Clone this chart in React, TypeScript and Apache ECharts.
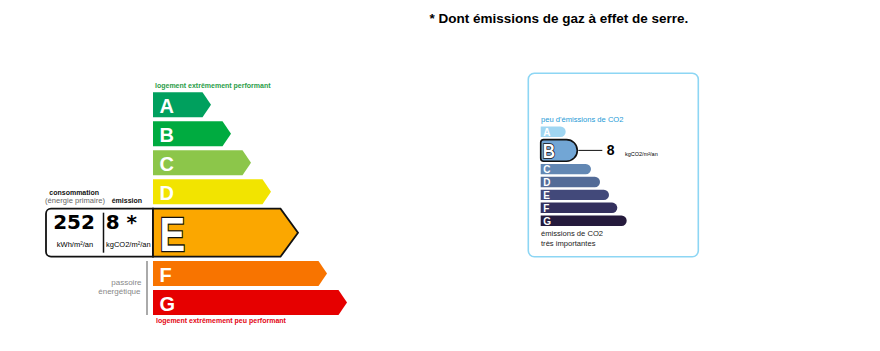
import React, { useEffect, useRef } from "react";
import * as echarts from "echarts";

// ---- Energy (DPE) data ----
const energyClasses = ["A", "B", "C", "D", "E", "F", "G"];
const energyBarLengths = [58, 78, 98, 118, 145, 174, 194];
const energyColors = ["#00a05e", "#00ab40", "#8cc64a", "#f2e400", "#fba700", "#f87400", "#e60000"];
const energyClass = "E";
const consumption = 252;
const consumptionUnit = "kWh/m²/an";
const emission = 8;
const emissionUnit = "kgCO2/m²/an";

// ---- GHG data ----
const ghgClasses = ["A", "B", "C", "D", "E", "F", "G"];
const ghgBarLengths = [25, 36.6, 50.3, 59.3, 68.3, 76.6, 86];
const ghgColors = ["#a0d6f2", "#72a6d5", "#6287b3", "#536b97", "#42497a", "#34305e", "#251a3c"];
const ghgClass = "B";
const ghgValue = 8;
const ghgUnit = "kgCO2/m²/an";

// ---- Texts ----
const titleText = "* Dont émissions de gaz à effet de serre.";
const energyTopLabel = "logement extrêmement performant";
const energyBottomLabel = "logement extrêmement peu performant";
const ghgTopLabel = "peu d'émissions de CO2";
const ghgBottomLabel = ["émissions de CO2", "très importantes"];

const FONT = "'Liberation Sans', Arial, sans-serif";

function rowPositions(classes: string[], hl: string, extra: number) {
  const h = classes.indexOf(hl);
  return classes.map((_, i) => i + (i > h ? 2 * extra : 0) + (i === h ? extra : 0));
}

const energyPos = rowPositions(energyClasses, energyClass, 0.41);
const ghgPos = rowPositions(ghgClasses, ghgClass, 0.45);

function renderEnergy(params: any, api: any) {
  const i = params.dataIndex;
  const len = api.value(0);
  const pos = api.value(1);
  const [x0, yc] = api.coord([0, pos]);
  const [x1] = api.coord([len, pos]);
  const hl = energyClasses[i] === energyClass;
  const half = hl ? 24 : 12.5;
  const head = hl ? 17.5 : 8.5;
  const children: any[] = [];
  if (hl) {
    const [bx] = api.coord([-107, pos]);
    children.push({
      type: "rect",
      shape: { x: bx, y: yc - half, width: x0 - bx, height: half * 2, r: [5, 0, 0, 5] },
      style: { fill: "#fff", stroke: "#111", lineWidth: 1.8 },
    });
    children.push({
      type: "line",
      shape: { x1: bx + 57.5, y1: yc - 20, x2: bx + 57.5, y2: yc + 20 },
      style: { stroke: "#111", lineWidth: 1.5 },
    });
    children.push({
      type: "text",
      style: {
        text: String(consumption), x: bx + 28, y: yc - 11, align: "center", verticalAlign: "middle",
        font: "bold 20px 'DejaVu Sans', sans-serif", fill: "#000",
      },
    });
    children.push({
      type: "text",
      style: {
        text: String(emission) + " *", x: bx + 59.7, y: yc - 11, align: "left", verticalAlign: "middle",
        font: "bold 20px 'DejaVu Sans', sans-serif", fill: "#000",
      },
    });
    children.push({
      type: "text",
      style: {
        text: consumptionUnit, x: bx + 29, y: yc + 12, align: "center", verticalAlign: "middle",
        font: "7.5px " + FONT, fill: "#000",
      },
    });
    children.push({
      type: "text",
      style: {
        text: emissionUnit, x: bx + 82.3, y: yc + 12, align: "center", verticalAlign: "middle",
        font: "7.5px " + FONT, fill: "#000",
      },
    });
  }
  children.push({
    type: "polygon",
    shape: {
      points: [
        [x0, yc - half], [x1 - head, yc - half], [x1, yc], [x1 - head, yc + half], [x0, yc + half],
      ],
    },
    style: { fill: energyColors[i], stroke: hl ? "#111" : null, lineWidth: hl ? 1.8 : 0 },
  });
  if (hl) {
    children.push({
      type: "text",
      x: x0 + 6.5,
      y: yc + 1.5,
      scaleX: 0.8,
      style: {
        text: energyClasses[i], x: 0, y: 0, align: "left", verticalAlign: "middle",
        font: "bold 48px " + FONT, fill: "#fff", stroke: "#111", lineWidth: 2.5,
      },
    });
  } else {
    children.push({
      type: "text",
      style: {
        text: energyClasses[i], x: x0 + 6.5, y: yc + 1, align: "left", verticalAlign: "middle",
        font: "bold 20px " + FONT, fill: "#fff",
      },
    });
  }
  return { type: "group", children };
}

function renderGhg(params: any, api: any) {
  const i = params.dataIndex;
  const len = api.value(0);
  const pos = api.value(1);
  const [x0, yc] = api.coord([0, pos]);
  const [x1] = api.coord([len, pos]);
  const hl = ghgClasses[i] === ghgClass;
  const half = hl ? 10.8 : 5.2;
  const children: any[] = [];
  children.push({
    type: "rect",
    shape: { x: x0, y: yc - half, width: x1 - x0, height: half * 2, r: hl ? [3, half, half, 3] : [0, half, half, 0] },
    style: { fill: ghgColors[i], stroke: hl ? "#111" : null, lineWidth: hl ? 1.6 : 0 },
  });
  if (hl) {
    children.push({
      type: "text",
      x: x0 + 2,
      y: yc + 0.5,
      scaleX: 0.85,
      style: {
        text: ghgClasses[i], x: 0, y: 0, align: "left", verticalAlign: "middle",
        font: "bold 20px " + FONT, fill: "#fff", stroke: "#111", lineWidth: 1.6,
      },
    });
    children.push({
      type: "line",
      shape: { x1: x1 + 1, y1: yc, x2: x1 + 25, y2: yc },
      style: { stroke: "#111", lineWidth: 1 },
    });
    children.push({
      type: "text",
      style: {
        text: String(ghgValue), x: x1 + 29.5, y: yc, align: "left", verticalAlign: "middle",
        font: "bold 14px " + FONT, fill: "#000",
      },
    });
    children.push({
      type: "text",
      style: {
        text: ghgUnit, x: x1 + 47.7, y: yc + 4, align: "left", verticalAlign: "middle",
        font: "5.5px " + FONT, fill: "#000",
      },
    });
  } else {
    children.push({
      type: "text",
      style: {
        text: ghgClasses[i], x: x0 + 2.5, y: yc + 0.5, align: "left", verticalAlign: "middle",
        font: "bold 10px " + FONT, fill: "#fff",
      },
    });
  }
  return { type: "group", children };
}

export default function App() {
  const ref = useRef<HTMLDivElement>(null);
  useEffect(() => {
    if (!ref.current) return;
    const chart = echarts.init(ref.current, null, { renderer: "svg" });
    const txt = (text: string, x: number, y: number, font: string, fill: string, align = "left") => ({
      type: "text",
      style: { text, x, y, font, fill, align, verticalAlign: "middle" },
    });
    chart.setOption({
      animation: false,
      backgroundColor: "#fff",
      grid: [
        { left: 46, top: 90.3, width: 307, height: 232 },
        { left: 540.7, top: 125.25, width: 100, height: 103.2 },
      ],
      xAxis: [
        { type: "value", gridIndex: 0, min: -107, max: 200, show: false },
        { type: "value", gridIndex: 1, min: 0, max: 100, show: false },
      ],
      yAxis: [
        { type: "value", gridIndex: 0, min: -0.5, max: 7.5, inverse: true, show: false },
        { type: "value", gridIndex: 1, min: -0.5, max: 7.5, inverse: true, show: false },
      ],
      series: [
        {
          type: "custom",
          xAxisIndex: 0,
          yAxisIndex: 0,
          renderItem: renderEnergy,
          data: energyBarLengths.map((v, i) => [v, energyPos[i]]),
        },
        {
          type: "custom",
          xAxisIndex: 1,
          yAxisIndex: 1,
          renderItem: renderGhg,
          data: ghgBarLengths.map((v, i) => [v, ghgPos[i]]),
        },
      ],
      graphic: [
        txt(titleText, 429.5, 18.5, "bold 13.5px " + FONT, "#000"),
        txt(energyTopLabel, 155, 85, "bold 7px " + FONT, "#2a9d48"),
        txt(energyBottomLabel, 156, 320.5, "bold 7px " + FONT, "#e30613"),
        txt("consommation", 49.3, 192, "bold 7px " + FONT, "#111"),
        txt("(énergie primaire)", 45, 200.7, "7.6px " + FONT, "#666"),
        txt("émission", 111.7, 200.7, "bold 7px " + FONT, "#111"),
        txt("passoire", 141.5, 282.7, "8px " + FONT, "#888", "right"),
        txt("énergétique", 140.5, 291.7, "8px " + FONT, "#888", "right"),
        {
          type: "line",
          shape: { x1: 147, y1: 261, x2: 147, y2: 315 },
          style: { stroke: "#aaa", lineWidth: 2 },
        },
        {
          type: "rect",
          shape: { x: 528.3, y: 73.3, width: 170, height: 183.4, r: 6 },
          style: { fill: "none", stroke: "#8dd6f4", lineWidth: 1.6 },
        },
        txt(ghgTopLabel, 541, 119.7, "7.6px " + FONT, "#1e9ad6"),
        txt(ghgBottomLabel[0], 541, 233.7, "7.6px " + FONT, "#222"),
        txt(ghgBottomLabel[1], 541, 243.2, "7.6px " + FONT, "#222"),
      ],
    });
    return () => chart.dispose();
  }, []);
  return (
    <div
      ref={ref}
      style={{ position: "fixed", left: 0, top: 0, width: 880, height: 351, background: "#fff" }}
    />
  );
}
